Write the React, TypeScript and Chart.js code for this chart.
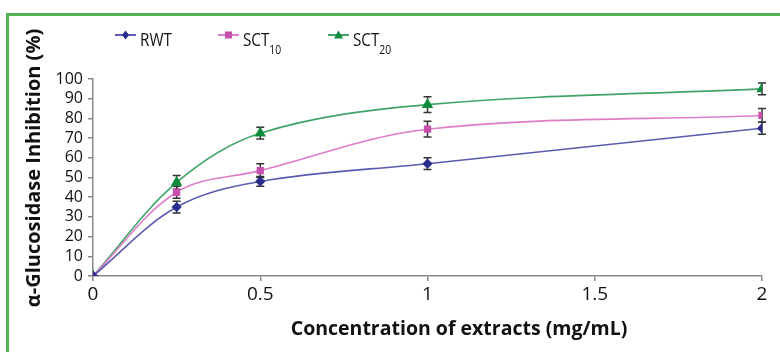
import React, { useEffect, useRef } from "react";
import { Chart, registerables } from "chart.js";

Chart.register(...registerables);

// ---- Data ----
const concentrations = [0, 0.25, 0.5, 1, 2];
const rwtValues = [0, 35, 48, 57, 75];
const sct10Values = [0, 42.5, 53.5, 74.5, 81.5];
const sct20Values = [0, 47.5, 72.5, 87, 95];
const rwtErrors = [0, 3, 2.5, 3, 3];
const sct10Errors = [0, 3, 3.5, 4, 3.5];
const sct20Errors = [0, 3.5, 3, 4, 3];
const seriesLabels = ["RWT", "SCT10", "SCT20"];
const legendBase = ["RWT", "SCT", "SCT"];
const legendSub = ["", "10", "20"];
const xTickValues = [0, 0.5, 1, 1.5, 2];
const yTitle = "α-Glucosidase Inhibition (%)";
const xTitle = "Concentration of extracts (mg/mL)";

const FONT = "'Open Sans', Lato, sans-serif";
const lineColors = ["#5a5bb0", "#de7cc8", "#3fa466"];
const markerColors = ["#2b2d8f", "#c94fae", "#0e8a3c"];
const markerStyles = ["rectRot", "rect", "triangle"];
const errorSets = [rwtErrors, sct10Errors, sct20Errors];

const errorBarPlugin = {
  id: "errorBars",
  beforeDatasetsDraw(chart: any) {
    const ctx = chart.ctx;
    const ys = chart.scales.y;
    ctx.save();
    ctx.strokeStyle = "#333";
    ctx.lineWidth = 1.5;
    chart.data.datasets.forEach((ds: any, i: number) => {
      const meta = chart.getDatasetMeta(i);
      const errs = errorSets[i];
      meta.data.forEach((pt: any, j: number) => {
        const e = errs[j];
        if (!e) return;
        const v = ds.data[j].y;
        const x = pt.x;
        const y1 = ys.getPixelForValue(v + e);
        const y2 = ys.getPixelForValue(v - e);
        ctx.beginPath();
        ctx.moveTo(x, y1);
        ctx.lineTo(x, y2);
        ctx.moveTo(x - 4, y1);
        ctx.lineTo(x + 4, y1);
        ctx.moveTo(x - 4, y2);
        ctx.lineTo(x + 4, y2);
        ctx.stroke();
      });
    });
    ctx.restore();
  },
};

const drawMarker = (ctx: any, style: string, x: number, y: number, color: string) => {
  ctx.fillStyle = color;
  ctx.beginPath();
  if (style === "rectRot") {
    ctx.moveTo(x, y - 4.5);
    ctx.lineTo(x + 3.5, y);
    ctx.lineTo(x, y + 4.5);
    ctx.lineTo(x - 3.5, y);
  } else if (style === "rect") {
    ctx.rect(x - 3.5, y - 3.5, 7, 7);
  } else {
    ctx.moveTo(x, y - 4.5);
    ctx.lineTo(x + 4.5, y + 3.5);
    ctx.lineTo(x - 4.5, y + 3.5);
  }
  ctx.closePath();
  ctx.fill();
};

const textPlugin = {
  id: "customText",
  afterDraw(chart: any) {
    const ctx = chart.ctx;
    ctx.save();
    // Legend
    const starts = [115, 218, 328];
    const ly = 35;
    const squeeze = 0.8;
    for (let i = 0; i < 3; i++) {
      const sx = starts[i];
      ctx.strokeStyle = lineColors[i];
      ctx.lineWidth = 2;
      ctx.beginPath();
      ctx.moveTo(sx, ly);
      ctx.lineTo(sx + 21, ly);
      ctx.stroke();
      drawMarker(ctx, markerStyles[i], sx + 10.5, ly, markerColors[i]);
      ctx.save();
      ctx.translate(sx + 25, 0);
      ctx.scale(squeeze, 1);
      ctx.fillStyle = "#111";
      ctx.textAlign = "left";
      ctx.textBaseline = "alphabetic";
      ctx.font = `19px ${FONT}`;
      ctx.fillText(legendBase[i], 0, 46);
      if (legendSub[i]) {
        const w = ctx.measureText(legendBase[i]).width;
        ctx.font = `13px ${FONT}`;
        ctx.fillText(legendSub[i], w, 54);
      }
      ctx.restore();
    }
    // X title
    ctx.fillStyle = "#111";
    ctx.font = `bold 19.5px ${FONT}`;
    ctx.textAlign = "center";
    ctx.textBaseline = "middle";
    ctx.fillText(xTitle, 459, 329);
    // Y title
    ctx.translate(34, 168);
    ctx.rotate(-Math.PI / 2);
    ctx.font = `bold 20px ${FONT}`;
    ctx.fillText(yTitle, 0, 0);
    ctx.restore();
  },
};

export default function App() {
  const canvasRef = useRef<HTMLCanvasElement>(null);

  useEffect(() => {
    const makeData = (vals: number[]) => vals.map((v, i) => ({ x: concentrations[i], y: v }));
    const allValues = [rwtValues, sct10Values, sct20Values];
    const chart = new Chart(canvasRef.current!, {
      type: "line",
      data: {
        datasets: allValues.map((vals, i) => ({
          label: seriesLabels[i],
          data: makeData(vals),
          borderColor: lineColors[i],
          backgroundColor: markerColors[i],
          pointBackgroundColor: markerColors[i],
          pointBorderColor: markerColors[i],
          pointStyle: markerStyles[i] as any,
          pointRadius: i === 2 ? 5 : 4,
          borderWidth: 1.6,
          tension: 0.35,
          fill: false,
        })),
      },
      options: {
        responsive: false,
        animation: false,
        devicePixelRatio: 1,
        layout: { padding: { left: 0, top: 79, right: 18, bottom: 0 } },
        plugins: {
          legend: { display: false },
          tooltip: { enabled: false },
        },
        scales: {
          x: {
            type: "linear",
            min: 0,
            max: 2,
            afterFit: (s: any) => {
              s.height = 76;
            },
            afterBuildTicks: (s: any) => {
              s.ticks = xTickValues.map((v) => ({ value: v }));
            },
            ticks: {
              font: { family: FONT, size: 19 },
              color: "#111",
              padding: 2,
              maxRotation: 0,
              autoSkip: false,
              callback: (v: any) => String(v),
            },
            grid: { drawOnChartArea: false, drawTicks: true, tickLength: 5, color: "#888", lineWidth: 1.5 },
            border: { display: true, color: "#888", width: 1.5 },
          },
          y: {
            min: 0,
            max: 100,
            afterFit: (s: any) => {
              s.width = 93;
            },
            ticks: {
              stepSize: 10,
              autoSkip: false,
              font: { family: FONT, size: 16 },
              color: "#111",
              padding: 5,
            },
            grid: { drawOnChartArea: false, drawTicks: true, tickLength: 5, color: "#888", lineWidth: 1.5 },
            border: { display: true, color: "#888", width: 1.5 },
          },
        },
      },
      plugins: [errorBarPlugin, textPlugin],
    });
    return () => chart.destroy();
  }, []);

  return (
    <div style={{ position: "fixed", left: 0, top: 0, width: 780, height: 352, background: "#fff", overflow: "hidden" }}>
      <div
        style={{
          position: "absolute",
          left: 6,
          top: 13,
          width: 800,
          height: 400,
          borderTop: "3px solid #52b452",
          borderLeft: "3px solid #52b452",
        }}
      />
      <canvas ref={canvasRef} width={780} height={352} style={{ position: "absolute", left: 0, top: 0 }} />
    </div>
  );
}
